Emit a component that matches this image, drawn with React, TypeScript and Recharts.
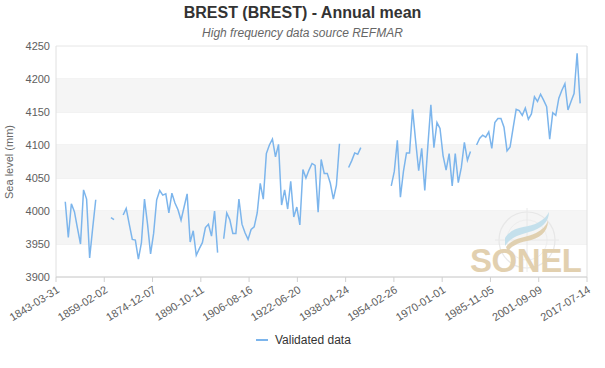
import React from 'react';
import { LineChart, Line, XAxis, YAxis, CartesianGrid, ReferenceArea, ReferenceLine } from 'recharts';

const years = [
  1846, 1847, 1848, 1849, 1850, 1851, 1852, 1853, 1854, 1855, 1856, 1857, 1858, 1859,
  1860, 1861, 1862, 1863, 1864, 1865, 1866, 1867, 1868, 1869,
  1870, 1871, 1872, 1873, 1874, 1875, 1876, 1877, 1878, 1879,
  1880, 1881, 1882, 1883, 1884, 1885, 1886, 1887, 1888, 1889,
  1890, 1891, 1892, 1893, 1894, 1895, 1896, 1897, 1898, 1899,
  1900, 1901, 1902, 1903, 1904, 1905, 1906, 1907, 1908, 1909,
  1910, 1911, 1912, 1913, 1914, 1915, 1916, 1917, 1918, 1919,
  1920, 1921, 1922, 1923, 1924, 1925, 1926, 1927, 1928, 1929,
  1930, 1931, 1932, 1933, 1934, 1935, 1936, 1937, 1938, 1939,
  1940, 1941, 1942, 1943, 1944, 1945, 1946, 1947, 1948, 1949,
  1950, 1951, 1952, 1953, 1954, 1955, 1956, 1957, 1958, 1959,
  1960, 1961, 1962, 1963, 1964, 1965, 1966, 1967, 1968, 1969,
  1970, 1971, 1972, 1973, 1974, 1975, 1976, 1977, 1978, 1979,
  1980, 1981, 1982, 1983, 1984, 1985, 1986, 1987, 1988, 1989,
  1990, 1991, 1992, 1993, 1994, 1995, 1996, 1997, 1998, 1999,
  2000, 2001, 2002, 2003, 2004, 2005, 2006, 2007, 2008, 2009,
  2010, 2011, 2012, 2013, 2014, 2015,
];

const seaLevel: (number | null)[] = [
  4014, 3960, 4011, 3999, 3974, 3950, 4032, 4018, 3929, 3974, 4017, null, null, null,
  null, 3990, 3987, null, null, 3994, 4004, 3980, 3957, 3956,
  3927, 3952, 4018, 3980, 3935, 3966, 4017, 4031, 4024, 4026,
  3997, 4027, 4012, 4002, 3986, 4006, 4026, 3953, 3970, 3933,
  3943, 3952, 3975, 3980, 3962, 4000, 3937, null, 3958, 3997,
  3987, 3966, 3966, 4018, 3980, 3967, 3957, 3972, 3976, 3997,
  4042, 4018, 4087, 4100, 4109, 4082, 4101, 4009, 4032, 4003,
  4045, 3991, 4006, 3979, 4063, 4050, 4062, 4072, 4069, 3998,
  4078, 4057, 4057, 4042, 4018, 4039, 4102, null, null, 4066,
  4076, 4088, 4086, 4096, null, null, null, null, null, null,
  null, null, null, 4038, 4060, 4107, 4021, 4060, 4088, 4088,
  4154, 4106, 4061, 4095, 4031, 4098, 4161, 4096, 4134, 4125,
  4084, 4062, 4087, 4038, 4087, 4043, 4066, 4104, 4077, 4090,
  null, 4100, 4110, 4115, 4112, 4120, 4095, 4134, 4140, 4140,
  4127, 4091, 4097, 4126, 4154, 4152, 4145, 4156, 4139, 4147,
  4173, 4166, 4177, 4168, 4158, 4109, 4149, 4145, 4171, 4183,
  4193, 4153, 4166, 4178, 4239, 4163,
];

const xTickLabels = [
  '1843-03-31', '1859-02-02', '1874-12-07', '1890-10-11', '1906-08-16', '1922-06-20',
  '1938-04-24', '1954-02-26', '1970-01-01', '1985-11-05', '2001-09-09', '2017-07-14',
];

const yTicks = [3900, 3950, 4000, 4050, 4100, 4150, 4200, 4250];
const shadedBandStarts = [3950, 4050, 4150];
const bandSize = 50;

const seriesName = 'Validated data';
const chartTitle = 'BREST (BREST) - Annual mean';
const chartSubtitle = 'High frequency data source REFMAR';
const yAxisTitle = 'Sea level (mm)';

const xTickValues = xTickLabels.map((s) => Date.parse(s));
const data = years.map((y, i) => ({ t: Date.UTC(y, 3, 15), v: seaLevel[i] }));

const FONT = '"Liberation Sans", Arial, sans-serif';
const LINE_COLOR = '#7cb5ec';

const XTick = (props: any) => {
  const { x, y, index } = props;
  return (
    <g transform={`translate(${x},${y})`}>
      <text
        x={0}
        y={0}
        dy={8}
        textAnchor="end"
        transform="rotate(-32)"
        fontSize={11}
        fill="#606060"
        fontFamily={FONT}
      >
        {xTickLabels[index]}
      </text>
    </g>
  );
};

export default function App() {
  return (
    <div style={{ position: 'absolute', left: 0, top: 0, width: 605, height: 368, background: '#fff' }}>
      <LineChart
        width={605}
        height={368}
        data={data}
        margin={{ top: 46, right: 18, bottom: 31, left: 10 }}
      >
        {shadedBandStarts.map((b) => (
          <ReferenceArea
            key={b}
            y1={b}
            y2={b + bandSize}
            fill="#f5f5f5"
            fillOpacity={1}
            stroke="none"
            ifOverflow="hidden"
          />
        ))}
        <CartesianGrid vertical={false} stroke="#e6e6e6" strokeWidth={1} />
        <ReferenceLine x={xTickValues[0]} stroke="#e0e0e0" />
        <ReferenceLine x={xTickValues[xTickValues.length - 1]} stroke="#e0e0e0" />
        <XAxis
          type="number"
          dataKey="t"
          scale="linear"
          domain={[xTickValues[0], xTickValues[xTickValues.length - 1]]}
          ticks={xTickValues}
          interval={0}
          allowDataOverflow
          height={60}
          tickSize={5}
          tickMargin={3}
          axisLine={{ stroke: '#d0d0d0' }}
          tickLine={{ stroke: '#d0d0d0' }}
          tick={<XTick />}
        />
        <YAxis
          type="number"
          domain={[3900, 4250]}
          ticks={yTicks}
          interval={0}
          width={46}
          axisLine={false}
          tickLine={false}
          tickSize={0}
          tickMargin={6}
          tick={{ fontSize: 11, fill: '#606060', fontFamily: FONT }}
        />
        <Line
          type="linear"
          dataKey="v"
          name={seriesName}
          stroke={LINE_COLOR}
          strokeWidth={1.5}
          dot={false}
          connectNulls={false}
          isAnimationActive={false}
        />
      </LineChart>
      <svg
        width={605}
        height={368}
        style={{ position: 'absolute', left: 0, top: 0, pointerEvents: 'none' }}
      >
        <text x={302.5} y={18} textAnchor="middle" fontSize={16} fontWeight="bold" fill="#333333" fontFamily={FONT}>
          {chartTitle}
        </text>
        <text x={302.5} y={37} textAnchor="middle" fontSize={12} fontStyle="italic" fill="#666666" fontFamily={FONT}>
          {chartSubtitle}
        </text>
        <text
          x={0}
          y={0}
          transform="translate(13,162) rotate(-90)"
          textAnchor="middle"
          fontSize={11}
          fill="#666666"
          fontFamily={FONT}
        >
          {yAxisTitle}
        </text>
        {/* SONEL watermark */}
        <g opacity={0.8}>
          <circle cx={527} cy={240} r={28} fill="none" stroke="#e4e4e4" strokeWidth={1.2} />
          <circle cx={527} cy={240} r={20} fill="none" stroke="#ececec" strokeWidth={1} />
          <line x1={527} y1={208} x2={527} y2={272} stroke="#e6e6e6" />
          <line x1={495} y1={240} x2={559} y2={240} stroke="#e6e6e6" />
          <path
            d="M505,238 C514,224 528,229 539,222 C544,219 547,216 549,212 C549,222 541,229 529,232 C518,235 510,238 505,246 Z"
            fill="#b9dcea"
          />
          <path
            d="M506,247 C513,237 526,238 536,233 C542,230 546,226 548,221 C548,232 539,239 527,241 C517,243 510,247 508,252 Z"
            fill="#dcc7a0"
          />
          <text x={470} y={272} fontSize={33} fontWeight="bold" fill="#dcc59c" fontFamily={FONT} textLength={112}>
            SONEL
          </text>
        </g>
        {/* legend */}
        <line x1={256} y1={340} x2={268} y2={340} stroke={LINE_COLOR} strokeWidth={2} />
        <text x={275} y={344} fontSize={12} fill="#333333" fontFamily={FONT}>
          {seriesName}
        </text>
      </svg>
    </div>
  );
}
